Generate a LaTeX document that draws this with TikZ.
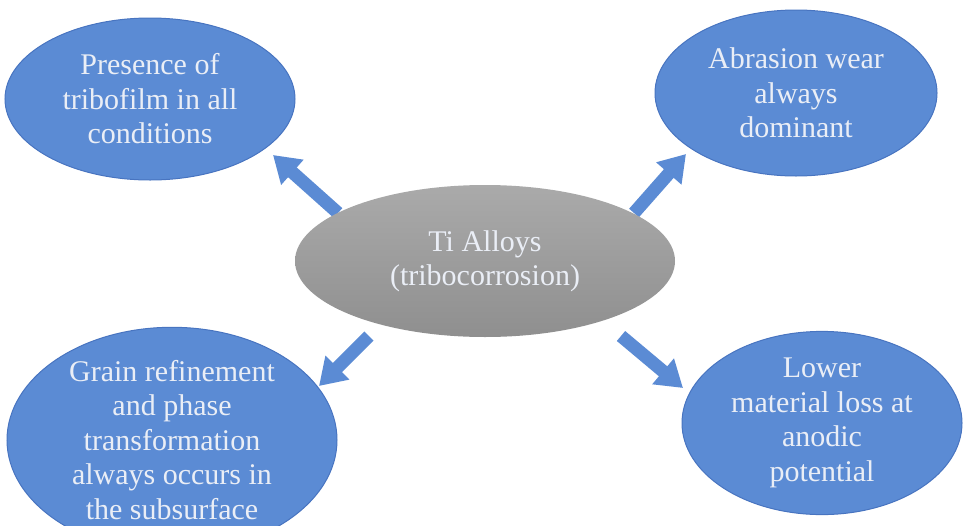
\documentclass[tikz,border=0pt]{standalone}
\usepackage{fontspec}
\setmainfont{Liberation Serif}
\usetikzlibrary{shapes.geometric,arrows.meta}
\definecolor{bluefill}{RGB}{91,139,212}
\definecolor{blueline}{RGB}{72,116,192}
\definecolor{txtlight}{RGB}{234,238,246}
\definecolor{graytop}{RGB}{170,170,170}
\definecolor{graybot}{RGB}{143,143,143}
\begin{document}
\begin{tikzpicture}[x=1pt,y=-1pt,
  bub/.style={ellipse, draw=blueline, line width=1pt, fill=bluefill, text=txtlight,
    align=center, inner sep=0pt, font=\fontsize{30}{34.5}\selectfont},
  hub/.style={ellipse, top color=graytop, bottom color=graybot, draw=none, text=txtlight,
    align=center, inner sep=0pt, font=\fontsize{30}{34}\selectfont},
  arr/.style={draw=bluefill, line width=13pt, -{Triangle[width=32pt,length=26pt]}}]
\useasboundingbox (0,0) rectangle (966,525);
\clip (0,0) rectangle (966,525);
% outer bubbles
\node[bub, minimum width=290pt, minimum height=162pt] (tl) at (150,99)
  {Presence of\\tribofilm in all\\conditions};
\node[bub, minimum width=282pt, minimum height=166pt] (tr) at (796,93)
  {Abrasion wear\\always\\dominant};
\node[bub, minimum width=330pt, minimum height=178pt] (bl) at (172,440)
  {Grain refinement\\and phase\\transformation\\always occurs in\\the subsurface};
\node[bub, minimum width=280pt, minimum height=164pt] (br) at (822,423)
  {Lower\\material loss at\\anodic\\potential};
% arrow end points
\coordinate (a1s) at (338,213); \coordinate (a1e) at (273,155);
\coordinate (a2s) at (634,213); \coordinate (a2e) at (686,154);
\coordinate (a3s) at (369,336); \coordinate (a3e) at (319,386);
\coordinate (a4s) at (621,336); \coordinate (a4e) at (683,388);
\draw[arr] (a1s) -- (a1e);
\draw[arr] (a2s) -- (a2e);
\draw[arr] (a3s) -- (a3e);
\draw[arr] (a4s) -- (a4e);
% central node
\node[hub, minimum width=380pt, minimum height=152pt] (c) at (485,261)
  {Ti Alloys\\(tribocorrosion)};
\end{tikzpicture}
\end{document}
